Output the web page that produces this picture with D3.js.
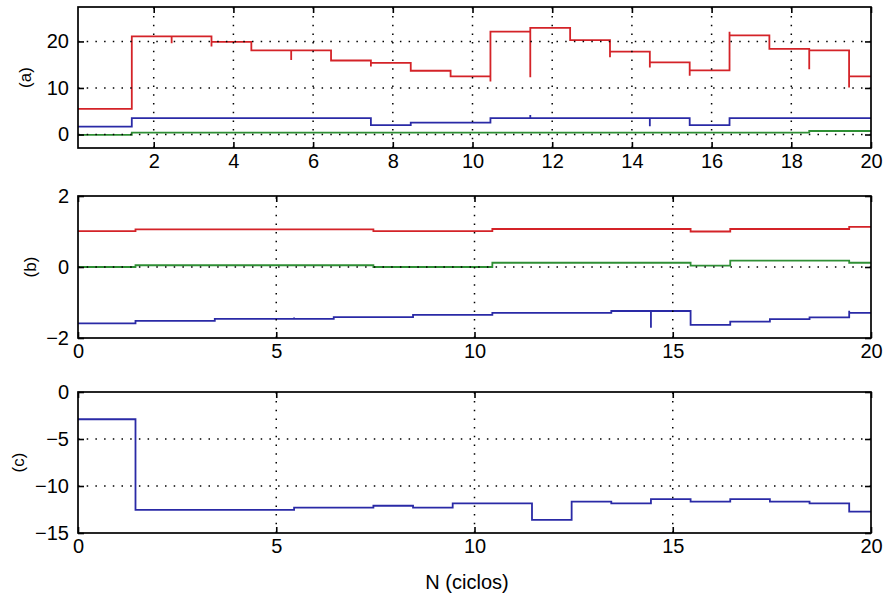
<!DOCTYPE html>
<html><head><meta charset="utf-8">
<script src="https://cdn.jsdelivr.net/npm/d3@7"></script>
<style>
html,body{margin:0;padding:0;background:#fff;}
svg{display:block;}
text{font-family:"Liberation Sans",Arial,Helvetica,sans-serif;fill:#000;}
</style></head>
<body>
<svg id="chart" width="885" height="594"></svg>
<script>
// ---- data (one value per cycle segment) ----
const cycleStarts = [0,1.45,2.45,3.45,4.45,5.45,6.45,7.45,8.45,9.45,10.45,11.45,12.45,13.45,14.45,15.45,16.45,17.45,18.45,19.45];
const cycleEnd = 20;

const aRed   = [5.5,21.1,21.1,19.9,18.1,18.1,15.9,15.4,13.7,12.5,22.1,22.9,20.3,17.8,15.5,13.8,21.3,18.4,18.1,12.5];
const aRedSpikes = [null,null,19.6,18.9,null,16.0,null,14.6,null,null,11.4,12.3,null,16.6,14.4,12.6,22.1,null,14.0,10.1];
const aBlue  = [1.7,3.5,3.5,3.5,3.5,3.5,3.5,2.0,2.55,2.55,3.5,3.5,3.5,3.5,3.5,2.0,3.5,3.5,3.5,3.5];
const aBlueSpikes = [null,null,null,null,null,null,null,null,null,null,null,4.2,null,null,1.8,null,null,null,null,null];
const aGreen = [-0.1,0.4,0.4,0.4,0.4,0.4,0.4,0.4,0.4,0.4,0.4,0.4,0.4,0.4,0.4,0.4,0.4,0.4,0.75,0.75];

const bRed   = [1.01,1.06,1.06,1.06,1.06,1.06,1.06,1.01,1.01,1.01,1.07,1.07,1.07,1.07,1.07,1.0,1.07,1.07,1.07,1.13];
const bGreen = [0,0.05,0.05,0.05,0.05,0.05,0.05,0,0,0,0.12,0.12,0.12,0.12,0.12,0.04,0.18,0.18,0.18,0.12];
const bBlue  = [-1.59,-1.52,-1.52,-1.46,-1.46,-1.46,-1.41,-1.41,-1.35,-1.35,-1.29,-1.29,-1.29,-1.24,-1.24,-1.63,-1.54,-1.47,-1.42,-1.29];
const bBlueSpikes = [null,null,null,null,null,-1.42,null,null,null,null,null,null,null,null,-1.71,null,null,null,null,-1.23];

const cBlue  = [-2.9,-12.55,-12.55,-12.55,-12.55,-12.3,-12.3,-12.1,-12.3,-11.85,-11.85,-13.6,-11.67,-11.85,-11.4,-11.67,-11.4,-11.67,-11.85,-12.73];

const aXTicks = [2,4,6,8,10,12,14,16,18,20];
const aYTicks = [0,10,20];
const bXTicks = [0,5,10,15,20];
const bYTicks = [-2,0,2];
const cXTicks = [0,5,10,15,20];
const cYTicks = [-15,-10,-5,0];

const panelLabels = ["(a)","(b)","(c)"];
const xLabel = "N (ciclos)";

const RED = "#d42328", BLUE = "#2a2aa6", GREEN = "#2f8f35";

// ---- drawing ----
const svg = d3.select("#chart");
const L = 78, R = 871;
const FS = 20;

const panels = [
  {top:7,   bottom:148, xd:[0.1,20], yd:[-2.9,27.4], xt:aXTicks, yt:aYTicks, label:panelLabels[0], lx:25,
   series:[{v:aRed,s:aRedSpikes,c:RED},{v:aBlue,s:aBlueSpikes,c:BLUE},{v:aGreen,s:null,c:GREEN}]},
  {top:196, bottom:338, xd:[0,20], yd:[-2,2], xt:bXTicks, yt:bYTicks, label:panelLabels[1], lx:30,
   series:[{v:bRed,s:null,c:RED},{v:bGreen,s:null,c:GREEN},{v:bBlue,s:bBlueSpikes,c:BLUE}]},
  {top:392, bottom:533, xd:[0,20], yd:[-15,0], xt:cXTicks, yt:cYTicks, label:panelLabels[2], lx:18,
   series:[{v:cBlue,s:null,c:BLUE}]}
];

function stepPoints(vals, spikes){
  const pts = [];
  vals.forEach((v,i)=>{
    if (spikes && spikes[i] != null) pts.push([cycleStarts[i], spikes[i]]);
    pts.push([cycleStarts[i], v]);
  });
  pts.push([cycleEnd, vals[vals.length-1]]);
  return pts;
}

panels.forEach((p,pi)=>{
  const x = d3.scaleLinear().domain(p.xd).range([L,R]);
  const y = d3.scaleLinear().domain(p.yd).range([p.bottom,p.top]);
  const g = svg.append("g");
  const clipId = "clip"+pi;
  svg.append("clipPath").attr("id",clipId).append("rect")
    .attr("x",L).attr("y",p.top).attr("width",R-L).attr("height",p.bottom-p.top);

  // data lines
  const line = d3.line().x(d=>x(d[0])).y(d=>y(d[1])).curve(d3.curveStepAfter);
  const lg = g.append("g").attr("clip-path",`url(#${clipId})`);
  p.series.forEach(s=>{
    lg.append("path").attr("d", line(stepPoints(s.v,s.s)))
      .attr("fill","none").attr("stroke",s.c).attr("stroke-width",1.8);
  });

  // grid (dotted, drawn on top)
  const gg = g.append("g").attr("stroke","#000").attr("stroke-width",1.5)
    .attr("stroke-dasharray","1.5 7.2");
  p.xt.filter(t=>x(t)>L+2 && x(t)<R-2).forEach(t=>{
    gg.append("line").attr("x1",x(t)).attr("x2",x(t)).attr("y1",p.bottom).attr("y2",p.top);
  });
  p.yt.filter(t=>y(t)<p.bottom-2 && y(t)>p.top+2).forEach(t=>{
    gg.append("line").attr("y1",y(t)).attr("y2",y(t)).attr("x1",L).attr("x2",R);
  });

  // axes with inward ticks
  const TK = 6;
  g.append("g").attr("transform",`translate(0,${p.bottom})`)
    .call(d3.axisBottom(x).tickValues(p.xt).tickSizeInner(-TK).tickSizeOuter(0).tickPadding(6).tickFormat(d3.format("d")))
    .call(a=>a.select(".domain").remove());
  g.append("g").attr("transform",`translate(0,${p.top})`)
    .call(d3.axisTop(x).tickValues(p.xt).tickSizeInner(-TK).tickSizeOuter(0).tickFormat(""))
    .call(a=>a.select(".domain").remove());
  g.append("g").attr("transform",`translate(${L},0)`)
    .call(d3.axisLeft(y).tickValues(p.yt).tickSizeInner(-TK).tickSizeOuter(0).tickPadding(9).tickFormat(d3.format("d")))
    .call(a=>a.select(".domain").remove());
  g.append("g").attr("transform",`translate(${R},0)`)
    .call(d3.axisRight(y).tickValues(p.yt).tickSizeInner(-TK).tickSizeOuter(0).tickFormat(""))
    .call(a=>a.select(".domain").remove());
  g.selectAll(".tick line").attr("stroke","#000").attr("stroke-width",1.6);
  g.selectAll(".tick text").attr("font-size",FS).attr("fill","#000")
    .attr("font-family","'Liberation Sans',Arial,sans-serif");

  // box
  g.append("rect").attr("x",L).attr("y",p.top).attr("width",R-L).attr("height",p.bottom-p.top)
    .attr("fill","none").attr("stroke","#000").attr("stroke-width",1.7);

  // y label
  g.append("text").attr("transform",`translate(${p.lx},${(p.top+p.bottom)/2}) rotate(-90)`)
    .attr("text-anchor","middle").attr("dominant-baseline","central")
    .attr("font-size",17).text(p.label);
});

svg.append("text").attr("x",467).attr("y",589).attr("text-anchor","middle")
  .attr("font-size",FS).text(xLabel);
</script>
</body></html>
